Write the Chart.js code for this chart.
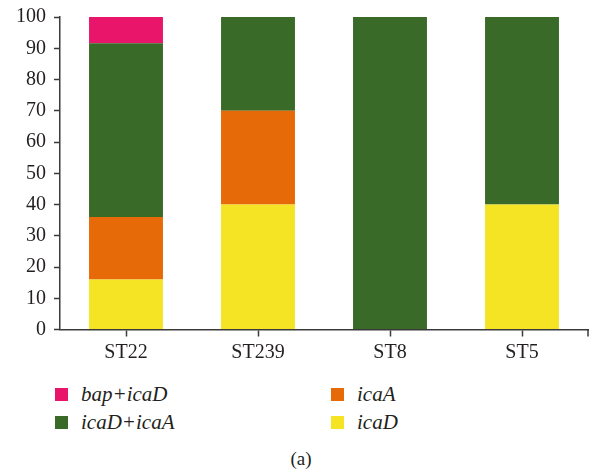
<!DOCTYPE html>
<html>
<head>
<meta charset="utf-8">
<script src="https://cdn.jsdelivr.net/npm/chart.js@4"></script>
<style>
  html, body { margin: 0; padding: 0; background: #fff; }
  #wrap { position: relative; width: 596px; height: 470px; font-family: "Liberation Serif", "DejaVu Serif", serif; color: #231f20; }
  #chartBox { position: absolute; left: 0; top: 0; width: 596px; height: 370px; }
  .leg { position: absolute; font-style: italic; font-size: 21px; line-height: 24px; height: 24px; display: flex; align-items: center; }
  .sw { width: 13px; height: 13px; margin-right: 13px; display: inline-block; }
  #cap { position: absolute; left: 0; width: 602px; top: 448px; text-align: center; font-size: 19px; }
</style>
</head>
<body>
<div id="wrap">
  <div id="chartBox"><canvas id="c" width="596" height="370"></canvas></div>
  <div id="legend"></div>
  <div id="cap">(a)</div>
</div>
<script>
// Sequence types on the x axis
const categories = ["ST22", "ST239", "ST8", "ST5"];
// Percentage of isolates carrying each gene profile (stacked bottom to top)
const icaD      = [16, 40, 0, 40];
const icaA      = [20, 30, 0, 0];
const icaDicaA  = [55.6, 30, 100, 60];
const bapIcaD   = [8.4, 0, 0, 0];
const yTicks    = [0, 10, 20, 30, 40, 50, 60, 70, 80, 90, 100];

const colors = {
  icaD: "#f4e424",
  icaA: "#e66a07",
  icaDicaA: "#3a6a28",
  bapIcaD: "#e8156a"
};

const series = [
  { label: "icaD", data: icaD, color: colors.icaD },
  { label: "icaA", data: icaA, color: colors.icaA },
  { label: "icaD+icaA", data: icaDicaA, color: colors.icaDicaA },
  { label: "bap+icaD", data: bapIcaD, color: colors.bapIcaD }
];

const tickFont = { family: "'Liberation Serif', 'DejaVu Serif', serif", size: 20 };
const axisColor = "#3a3a3a";

// closing tick mark at the right end of the category axis
const endTick = {
  id: "endTick",
  afterDraw(chart) {
    const { ctx, chartArea } = chart;
    ctx.save();
    ctx.strokeStyle = axisColor;
    ctx.lineWidth = 1.5;
    ctx.beginPath();
    ctx.moveTo(chartArea.right, chartArea.bottom);
    ctx.lineTo(chartArea.right, chartArea.bottom + 7);
    ctx.stroke();
    ctx.restore();
  }
};

new Chart(document.getElementById("c"), {
  type: "bar",
  data: {
    labels: categories,
    datasets: series.map(s => ({
      label: s.label,
      data: s.data,
      backgroundColor: s.color,
      borderWidth: 0,
      barPercentage: 0.56,
      categoryPercentage: 1.0
    }))
  },
  plugins: [endTick],
  options: {
    responsive: false,
    animation: false,
    layout: { padding: { left: 0, right: 8, top: 17, bottom: 0 } },
    plugins: { legend: { display: false }, tooltip: { enabled: false } },
    scales: {
      x: {
        stacked: true,
        grid: { display: true, drawOnChartArea: false, drawTicks: true, tickLength: 7, tickColor: axisColor, tickWidth: 1.5, offset: false },
        border: { display: true, color: axisColor, width: 1.5 },
        ticks: { color: "#231f20", font: tickFont, padding: 4 },
        afterFit: scale => { scale.height = 40.5; scale.paddingLeft = 0; scale.paddingRight = 0; }
      },
      y: {
        stacked: true,
        min: 0,
        max: 100,
        afterBuildTicks: scale => { scale.ticks = yTicks.map(v => ({ value: v })); },
        grid: { display: true, drawOnChartArea: false, drawTicks: true, tickLength: 6, tickColor: axisColor, tickWidth: 1.5 },
        border: { display: true, color: axisColor, width: 1.5 },
        ticks: { color: "#231f20", font: tickFont, padding: 8 },
        afterFit: scale => { scale.width = 60; scale.paddingTop = 0; scale.paddingBottom = 0; }
      }
    }
  }
});

// Two-column legend under the plot
const legendItems = [
  { label: "bap+icaD", color: colors.bapIcaD, x: 55, y: 382 },
  { label: "icaA", color: colors.icaA, x: 331, y: 382 },
  { label: "icaD+icaA", color: colors.icaDicaA, x: 55, y: 410 },
  { label: "icaD", color: colors.icaD, x: 331, y: 410 }
];
const legend = document.getElementById("legend");
legendItems.forEach(it => {
  const d = document.createElement("div");
  d.className = "leg";
  d.style.left = it.x + "px";
  d.style.top = it.y + "px";
  const sw = document.createElement("span");
  sw.className = "sw";
  sw.style.background = it.color;
  const t = document.createElement("span");
  t.textContent = it.label;
  d.appendChild(sw);
  d.appendChild(t);
  legend.appendChild(d);
});
</script>
</body>
</html>
